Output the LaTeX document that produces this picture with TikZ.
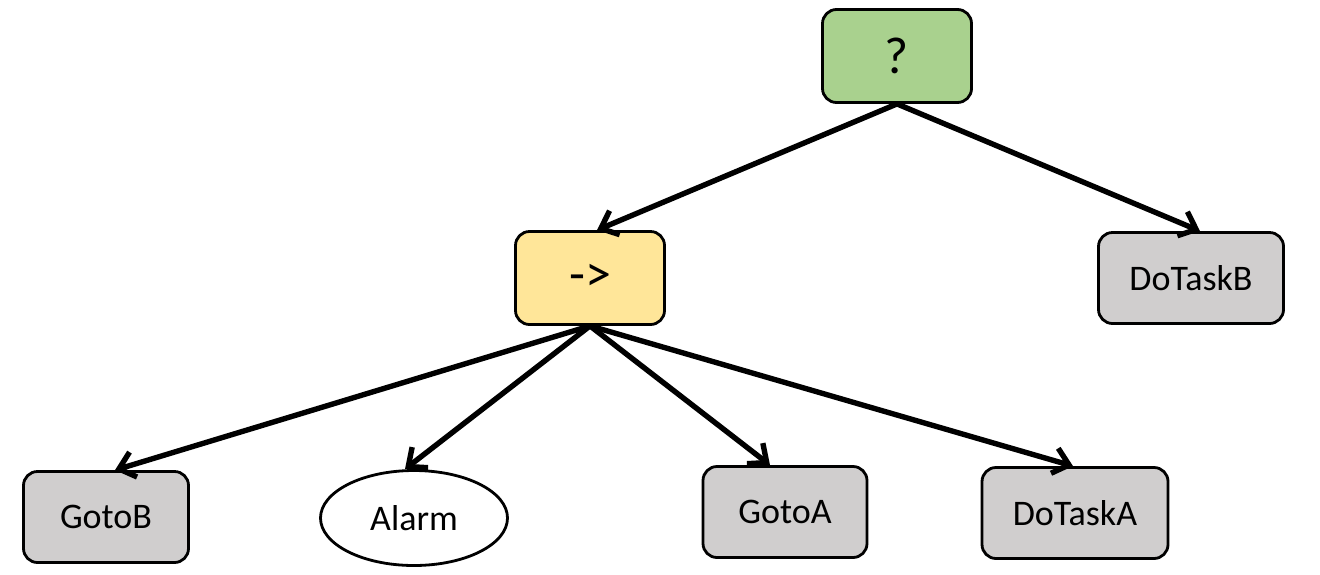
\documentclass[tikz,border=0pt]{standalone}
\usepackage{fontspec}
\setmainfont{Carlito}
\usetikzlibrary{arrows.meta,shapes.geometric}
\tikzset{>={Straight Barb[length=7.5pt,width=13pt]}}

\definecolor{selgreen}{HTML}{A9D18E}
\definecolor{seqyellow}{HTML}{FFE699}
\definecolor{actgray}{HTML}{D0CECE}

\tikzset{
  ctrl/.style={draw, line width=1.4pt, rounded corners=7pt, inner sep=0pt,
    minimum width=74.5pt, minimum height=46.5pt, font=\fontsize{26}{30}\selectfont},
  action/.style={draw, line width=1.4pt, rounded corners=7pt, inner sep=0pt,
    fill=actgray, minimum height=45.5pt, font=\fontsize{18}{21}\selectfont},
  cond/.style={draw, line width=1.4pt, ellipse, inner sep=0pt, fill=white,
    minimum width=93.5pt, minimum height=47.5pt, font=\fontsize{18}{21}\selectfont},
  edge/.style={->, line width=2.7pt}
}

\begin{document}
\begin{tikzpicture}[x=0.5pt, y=-0.5pt]

  \useasboundingbox (0,0) rectangle (1320,574);

  % control nodes
  \node[ctrl, fill=selgreen]  (fallback) at (897,  56) {?};
  \node[ctrl, fill=seqyellow] (sequence) at (590, 278) {->};

  % leaves
  \node[action, minimum width=92.5pt] (dotaskb) at (1191, 278) {DoTaskB};
  \node[action, minimum width=82.5pt] (gotob)   at (106, 517) {GotoB};
  \node[cond]                         (alarm)   at (414, 518) {Alarm};
  \node[action, minimum width=82pt]   (gotoa)   at (785, 512) {GotoA};
  \node[action, minimum width=93pt]   (dotaska) at (1075, 513) {DoTaskA};

  \draw[edge] (fallback.south) -- ([xshift=3.5pt]sequence.north);
  \draw[edge] (fallback.south) -- ([xshift=4.5pt]dotaskb.north);

  \draw[edge] (sequence.south) -- ([xshift=4.5pt]gotob.north);
  \draw[edge] (sequence.south) -- ([xshift=-4.5pt]alarm.north);
  \draw[edge] (sequence.south) -- ([xshift=-7.5pt]gotoa.north);
  \draw[edge] (sequence.south) -- ([xshift=-1pt]dotaska.north);

\end{tikzpicture}
\end{document}
